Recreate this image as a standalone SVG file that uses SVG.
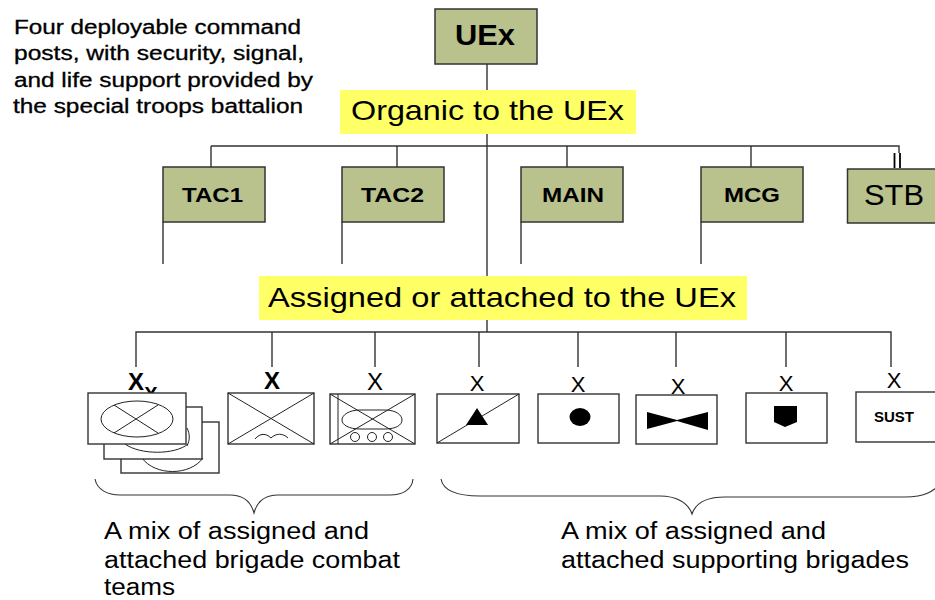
<svg xmlns="http://www.w3.org/2000/svg" width="935" height="600" viewBox="0 0 935 600">
<style>
text{font-family:"Liberation Sans",Arial,sans-serif;fill:#000}
.ln{fill:none;stroke:#333;stroke-width:1.4}
.cmd{fill:#b9c18c;stroke:#333;stroke-width:1.5}
.box{fill:#fff;stroke:#333;stroke-width:1.4}
.thin{fill:none;stroke:#222;stroke-width:1}
.hl{fill:#ffff66}
.big{font-size:28px}
.cap{font-size:23px}
.nb{font-size:21px;font-weight:bold}
.x{font-size:22px;text-anchor:middle}
.xb{font-size:24px;font-weight:bold;text-anchor:middle}
.note{font-size:19.5px;stroke:#000;stroke-width:.3}
</style>
<g id="note">
<text class="note" x="14" y="34" textLength="287" lengthAdjust="spacingAndGlyphs">Four deployable command</text>
<text class="note" x="14" y="60" textLength="290" lengthAdjust="spacingAndGlyphs">posts, with security, signal,</text>
<text class="note" x="14" y="87" textLength="299" lengthAdjust="spacingAndGlyphs">and life support provided by</text>
<text class="note" x="13" y="113" textLength="290" lengthAdjust="spacingAndGlyphs">the special troops battalion</text>
</g>
<g id="connectors" class="ln">
<path d="M487 63V332M211 146H899V153M211 146V167M397 146V167M567 146V167M751 146V167"/>
<path d="M163 222V264M342 222V264M521 222V264M701 222V264"/>
<path d="M136 367V332H891V367M272 332V367M375 332V367M479 332V367M578 332V367M676 332V367M786 332V367"/>
<path d="M894.500 153V168M900 153V168" style="stroke:#000;stroke-width:1.800"/>
</g>
<g id="uex"><rect class="cmd" x="435" y="9" width="102" height="55"/><text x="455" y="45" font-size="29" font-weight="bold" textLength="60" lengthAdjust="spacingAndGlyphs">UEx</text></g>
<g id="organic"><rect class="hl" x="340" y="90" width="296" height="44"/><text class="big" x="351" y="120" textLength="273" lengthAdjust="spacingAndGlyphs">Organic to the UEx</text></g>
<g id="tac1"><rect class="cmd" x="163" y="167" width="102" height="55"/><text class="nb" x="182" y="202" textLength="61" lengthAdjust="spacingAndGlyphs">TAC1</text></g>
<g id="tac2"><rect class="cmd" x="342" y="167" width="102" height="55"/><text class="nb" x="361" y="202" textLength="63" lengthAdjust="spacingAndGlyphs">TAC2</text></g>
<g id="main"><rect class="cmd" x="521" y="167" width="102" height="55"/><text class="nb" x="542" y="202" textLength="62" lengthAdjust="spacingAndGlyphs">MAIN</text></g>
<g id="mcg"><rect class="cmd" x="701" y="167" width="102" height="55"/><text class="nb" x="724" y="202" textLength="56" lengthAdjust="spacingAndGlyphs">MCG</text></g>
<g id="stb"><rect class="cmd" x="847.500" y="169" width="90" height="54"/><text x="864" y="205" font-size="29" textLength="60" lengthAdjust="spacingAndGlyphs">STB</text></g>
<g id="assigned"><rect class="hl" x="259" y="276" width="488" height="44"/><text class="big" x="268" y="307" textLength="468" lengthAdjust="spacingAndGlyphs">Assigned or attached to the UEx</text></g>
<g id="bct">
<text class="xb" x="136" y="390">X</text>
<text x="151" y="401" font-size="20" font-weight="bold" text-anchor="middle">X</text>
<rect class="box" x="121" y="422" width="98" height="51"/>
<path class="thin" d="M142 458C155 476 190 476 203 458"/>
<rect class="box" x="104" y="407" width="98" height="52"/>
<path class="thin" d="M125 444C140 455 175 455 188 444M187 428C190 434 190 440 187 446"/>
<rect class="box" x="88" y="393" width="98" height="51"/>
<ellipse class="thin" cx="137" cy="419" rx="36" ry="18"/>
<path class="thin" d="M114 405L158 433M114 433L158 405"/>
</g>
<g id="bde2"><text class="xb" x="272" y="389">X</text><rect class="box" x="228" y="393" width="86" height="51"/><path class="thin" d="M228 393L314 444M228 444L314 393M255 439C260 433 266 433 271 438C276 433 283 433 288 438"/></g>
<g id="bde3"><text x="375" y="390" font-size="24" text-anchor="middle">X</text><rect class="box" x="330" y="394" width="85" height="50"/><path class="thin" d="M330 394L415 444M330 444L415 394M338 394V444M360 410H385C396 410 402 415 402 420C402 425 396 429 385 429H360C349 429 342 425 342 420C342 415 349 410 360 410Z"/><circle class="thin" cx="355" cy="437" r="4.500"/><circle class="thin" cx="372" cy="437" r="4.500"/><circle class="thin" cx="388" cy="437" r="4.500"/></g>
<g id="bde4"><text class="x" x="477" y="391">X</text><rect class="box" x="437" y="394" width="82" height="49"/><path class="thin" d="M437 443L519 394"/><path d="M477 408L488 425H466Z"/></g>
<g id="bde5"><text class="x" x="578" y="392">X</text><rect class="box" x="538" y="394" width="81" height="49"/><ellipse cx="580" cy="417" rx="10.500" ry="9"/></g>
<g id="bde6"><text class="x" x="678" y="394">X</text><rect class="box" x="636" y="395" width="81" height="49"/><path d="M647 412L677 420L708 412V430L677 421L647 429Z"/></g>
<g id="bde7"><text class="x" x="786" y="391">X</text><rect class="box" x="746" y="393" width="81" height="50"/><path d="M774 406H797V422L785 427L774 422Z"/></g>
<g id="sust"><text class="x" x="894" y="388">X</text><rect class="box" x="856" y="392" width="84" height="50"/><text x="874" y="422" font-size="15" font-weight="bold" textLength="40" lengthAdjust="spacingAndGlyphs">SUST</text></g>
<g id="braces" class="ln">
<path d="M95 479C97 490 108 495 120 495H230C243 495 251 502 254 513C257 502 265 495 278 495H390C402 495 412 490 413 479" style="stroke-width:1.100"/>
<path d="M441 479C443 490 455 496 480 496H660C675 496 688 502 692 514C696 502 709 497 725 497H905C925 497 933 492 945 480" style="stroke-width:1.100"/>
</g>
<g id="captions">
<text class="cap" x="104" y="539" textLength="265" lengthAdjust="spacingAndGlyphs">A mix of assigned and</text>
<text class="cap" x="104" y="568" textLength="296" lengthAdjust="spacingAndGlyphs">attached brigade combat</text>
<text class="cap" x="104" y="595" textLength="71" lengthAdjust="spacingAndGlyphs">teams</text>
<text class="cap" x="561" y="539" textLength="265" lengthAdjust="spacingAndGlyphs">A mix of assigned and</text>
<text class="cap" x="561" y="568" textLength="348" lengthAdjust="spacingAndGlyphs">attached supporting brigades</text>
</g>
</svg>
